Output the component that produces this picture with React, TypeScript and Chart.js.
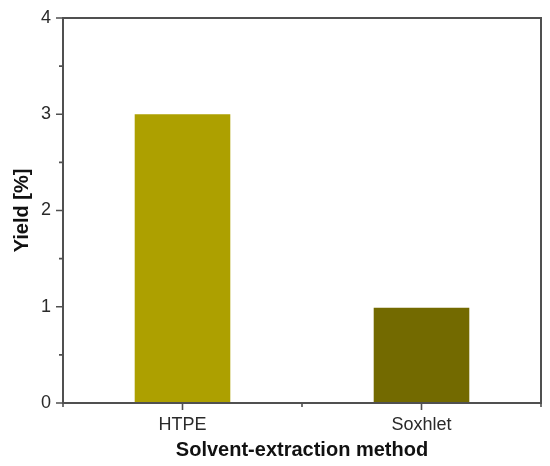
import React, { useEffect, useRef } from "react";
import { Chart, registerables } from "chart.js";

Chart.register(...registerables);

const categories = ["HTPE", "Soxhlet"];
const yieldValues = [3.0, 0.99];
const barColors = ["#ADA000", "#736A00"];
const yMin = 0;
const yMax = 4;
const yStep = 0.5;

const frameColor = "#505050";

const framePlugin = {
  id: "frameTicks",
  afterDatasetsDraw(chart: any) {
    const { ctx, chartArea } = chart;
    const { left, right, top, bottom } = chartArea;
    const y = chart.scales.y;
    const x = chart.scales.x;
    ctx.save();
    ctx.strokeStyle = frameColor;
    ctx.lineWidth = 2;
    ctx.beginPath();
    ctx.rect(left, top, right - left, bottom - top);
    ctx.stroke();
    ctx.lineWidth = 1.6;
    ctx.beginPath();
    y.ticks.forEach((t: any) => {
      const py = y.getPixelForValue(t.value);
      const major = Number.isInteger(t.value);
      ctx.moveTo(left - (major ? 7 : 4), py);
      ctx.lineTo(left, py);
    });
    const n = categories.length;
    for (let i = 0; i < n; i++) {
      const px = x.getPixelForValue(i);
      ctx.moveTo(px, bottom);
      ctx.lineTo(px, bottom + 7);
    }
    for (let i = 0; i <= n; i++) {
      const px = left + ((right - left) * i) / n;
      ctx.moveTo(px, bottom);
      ctx.lineTo(px, bottom + 4);
    }
    ctx.stroke();
    ctx.restore();
  },
};

export default function App() {
  const ref = useRef<HTMLCanvasElement | null>(null);
  useEffect(() => {
    if (!ref.current) return;
    const chart = new Chart(ref.current, {
      type: "bar",
      data: {
        labels: categories,
        datasets: [
          {
            data: yieldValues,
            backgroundColor: barColors,
            borderWidth: 0,
            barPercentage: 0.4,
            categoryPercentage: 1,
          },
        ],
      },
      options: {
        animation: false,
        responsive: false,
        maintainAspectRatio: false,
        layout: { padding: { left: 10, right: 9, top: 18, bottom: 4 } },
        plugins: {
          legend: { display: false },
          tooltip: { enabled: false },
        },
        scales: {
          x: {
            grid: { display: false, drawTicks: false },
            border: { display: false },
            ticks: {
              color: "#2a2a2a",
              padding: 11,
              font: { family: "Liberation Sans, Arial", size: 18 },
            },
            title: {
              display: true,
              text: "Solvent-extraction method",
              color: "#111111",
              padding: 0,
              font: { family: "Liberation Sans, Arial", size: 20, weight: "bold" },
            },
            afterFit(scale: any) {
              scale.height = 59;
              scale.paddingLeft = 0;
              scale.paddingRight = 0;
            },
          },
          y: {
            min: yMin,
            max: yMax,
            grid: { display: false, drawTicks: false },
            border: { display: false },
            ticks: {
              stepSize: yStep,
              color: "#2a2a2a",
              padding: 12,
              font: { family: "Liberation Sans, Arial", size: 18 },
              callback: (v: any) => (Number.isInteger(v) ? String(v) : ""),
            },
            title: {
              display: true,
              text: "Yield [%]",
              color: "#111111",
              padding: 0,
              font: { family: "Liberation Sans, Arial", size: 20, weight: "bold" },
            },
            afterFit(scale: any) {
              scale.width = 53;
              scale.paddingTop = 0;
              scale.paddingBottom = 0;
            },
          },
        },
      },
      plugins: [framePlugin],
    });
    return () => chart.destroy();
  }, []);
  return (
    <div style={{ position: "fixed", left: 0, top: 0, width: 550, height: 466, background: "#fff" }}>
      <canvas ref={ref} width={550} height={466} style={{ width: 550, height: 466 }} />
    </div>
  );
}
